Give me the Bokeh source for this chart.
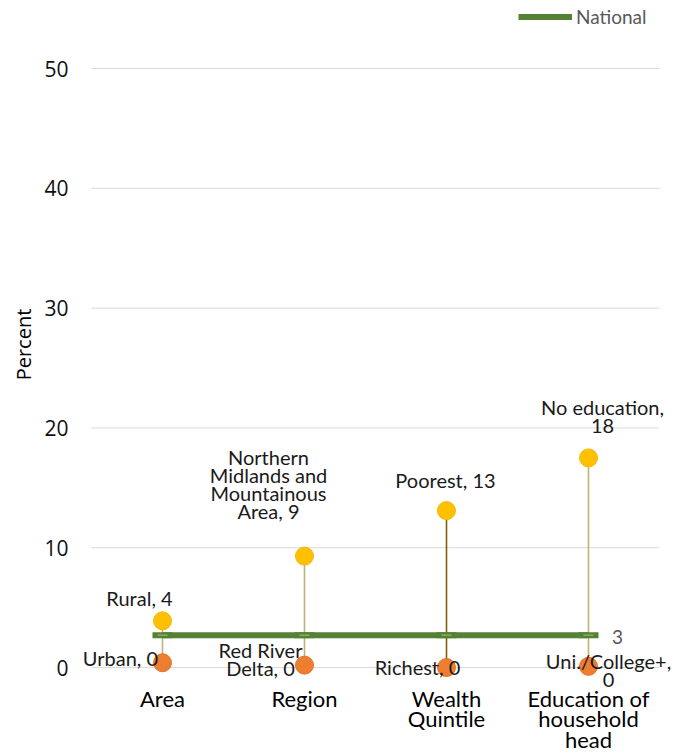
from bokeh.plotting import figure
from bokeh.models import ColumnDataSource, Legend, LegendItem, FixedTicker, FactorRange, Range1d
from bokeh.core.properties import value
from bokeh.embed import file_html
from bokeh.resources import INLINE

# ---- data ----
categories = ["Area", "Region", "Wealth\nQuintile", "Education of\nhousehold\nhead"]
high_labels = ["Rural, 4", "Northern\nMidlands and\nMountainous\nArea, 9", "Poorest, 13", "No education,\n18"]
high_values = [3.9, 9.3, 13.1, 17.5]
low_labels = ["Urban, 0", "Red River\nDelta, 0", "Richest, 0", "Uni./College+,\n0"]
low_values = [0.4, 0.2, 0.0, 0.1]
national_values = [2.7, 2.7, 2.7, 2.7]
national_label = "3"
y_ticks = [0, 10, 20, 30, 40, 50]

# ---- styles (label offsets in screen pixels, negative = up) ----
connector_colors = ["#C4AF78", "#C4AF78", "#806000", "#C4AF78"]
high_dx = [-23, -36, -1, 14]
high_dy = [-23, -72, -31, -42]
low_dx = [-42, -44, -29, 20]
low_dy = [-5, -6, -1, 4]

src = ColumnDataSource(dict(
    cat=categories, hi=high_values, lo=low_values, nat=national_values,
    hi_lab=high_labels, lo_lab=low_labels, col=connector_colors,
    hdx=high_dx, hdy=high_dy, ldx=low_dx, ldy=low_dy,
))

# frame is a little wider than the gridded area so that edge labels are not clipped
xr = FactorRange(*categories, range_padding=0.1408, range_padding_units="absolute")
p = figure(width=684, height=756, output_backend="svg", toolbar_location=None,
           x_range=xr, y_range=Range1d(-1.75, 55.68),
           min_border_left=71, min_border_right=5, min_border_top=0, min_border_bottom=68)
p.outline_line_color = None
p.background_fill_color = "white"
p.border_fill_color = "white"

# horizontal gridlines spanning the category band only
grid_src = ColumnDataSource(dict(y=y_ticks, x0=[0] * len(y_ticks), x1=[len(categories)] * len(y_ticks)))
p.segment(x0="x0", x1="x1", y0="y", y1="y", line_color="#D9D9D9", line_width=1, source=grid_src)

# connectors
p.segment(x0="cat", y0="lo", x1="cat", y1="hi", line_color="col", line_width=1.6, source=src)

# national line
nat_line = p.line(x="cat", y="nat", line_color="#548235", line_width=6, source=src)
p.scatter(x="cat", y="nat", marker="dash", size=20, line_color="#548235", line_width=6, source=src)
p.scatter(x="cat", y="nat", marker="dash", size=10, line_color="#8DB870", line_width=1.2, source=src)

# dots
p.scatter(x="cat", y="hi", size=18, fill_color="#FFC000", line_color="#F5B800", source=src)
p.scatter(x="cat", y="lo", size=18, fill_color="#ED7D31", line_color="#E57325", source=src)

# data labels
lab_kw = dict(text_align="center", text_baseline="middle", text_font=value("Lato"),
              text_font_size="20px", text_color="#1a1a1a", text_line_height=0.75)
p.text(x="cat", y="hi", text="hi_lab", x_offset="hdx", y_offset="hdy", source=src, **lab_kw)
p.text(x="cat", y="lo", text="lo_lab", x_offset="ldx", y_offset="ldy", source=src, **lab_kw)

last = ColumnDataSource(dict(cat=[categories[-1]], nat=[national_values[-1]], lab=[national_label]))
p.text(x="cat", y="nat", text="lab", source=last, x_offset=29, y_offset=2,
       text_align="center", text_baseline="middle", text_font=value("Lato"),
       text_font_size="19px", text_color="#595959")

# axes
p.xgrid.grid_line_color = None
p.ygrid.grid_line_color = None
p.yaxis.ticker = FixedTicker(ticks=y_ticks)
p.yaxis.axis_label = "Percent"
p.yaxis.axis_label_text_font = "Open Sans"
p.yaxis.axis_label_text_font_size = "20px"
p.yaxis.axis_label_text_font_style = "normal"
p.yaxis.axis_label_text_color = "#000000"
p.yaxis.axis_label_standoff = 4
p.yaxis.major_label_text_font = "Open Sans"
p.yaxis.major_label_text_font_size = "21px"
p.yaxis.major_label_text_color = "#111111"
p.yaxis.major_label_standoff = -3
for ax in (p.xaxis, p.yaxis):
    ax.axis_line_color = None
    ax.major_tick_line_color = None
    ax.minor_tick_line_color = None
p.xaxis.major_label_text_font = "Lato"
p.xaxis.major_label_text_font_size = "22px"
p.xaxis.major_label_text_color = "#000000"
p.xaxis.major_label_text_line_height = 0.77
p.xaxis.major_label_standoff = -10

legend = Legend(items=[LegendItem(label="National", renderers=[nat_line])],
                location=(447, 660), orientation="horizontal",
                glyph_width=54, glyph_height=23, label_height=23, label_standoff=4,
                padding=0, margin=0, spacing=0,
                border_line_color=None, background_fill_alpha=0,
                label_text_font="Lato", label_text_font_size="19px", label_text_color="#595959")
p.add_layout(legend)

open("out.html", "w").write(file_html(p, INLINE))
